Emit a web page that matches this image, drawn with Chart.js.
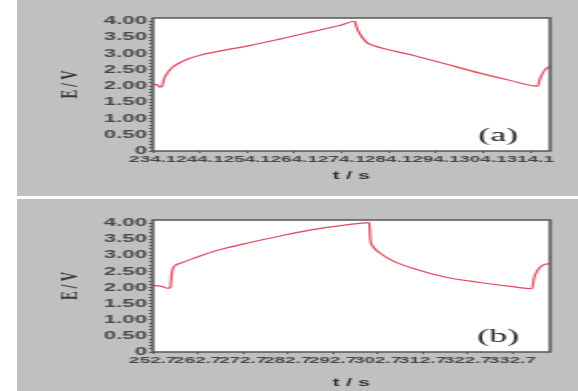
<!DOCTYPE html>
<html>
<head>
<meta charset="UTF-8">
<title>E / V vs t / s</title>
<style>
    body {
        margin: 0;
        background: #fff;
        width: 578px;
        height: 391px;
        position: relative;
        overflow: hidden;
    }
    .panel {
        position: absolute;
        left: 17px;
        width: 561px;
        background: #c0c0c0;
    }
    #panelA { top: 0; height: 196px; }
    #panelB { top: 199px; height: 192px; }
    /* drawn narrow, shown wide */
    .panel canvas { display: block; width: 561px; }
</style>
</head>
<body>
<div class="panel" id="panelA">
    <canvas id="chartA" width="281" height="196" style="width:561px;height:196px;"></canvas>
</div>
<div class="panel" id="panelB">
    <canvas id="chartB" width="281" height="192" style="width:561px;height:192px;"></canvas>
</div>
<script src="https://cdn.jsdelivr.net/npm/chart.js@4"></script>
<script>
    // (a) first cycle
    const timeA = [234.1, 235.0, 235.7, 236.1, 236.5, 237.2, 238.3, 239.8, 241.3, 244.1, 248.3, 254.6, 261.0, 268.0, 273.7, 276.9, 277.3, 277.9, 279.4, 280.7, 289.2, 295.0, 303.4, 309.7, 315.7, 316.1, 317.2, 318.2];
    const voltA = [2.06, 2.04, 1.97, 2.00, 2.22, 2.40, 2.58, 2.72, 2.82, 2.95, 3.08, 3.25, 3.45, 3.68, 3.87, 4.00, 3.81, 3.63, 3.35, 3.26, 2.95, 2.73, 2.40, 2.18, 2.00, 2.20, 2.50, 2.60];
    const xTicksA = [234.1, 244.1, 254.1, 264.1, 274.1, 284.1, 294.1, 304.1, 314.1];
    const xRangeA = [234.1, 318.3];

    // (b) second cycle
    const timeB = [252.7, 254.9, 256.0, 256.6, 256.9, 257.2, 258.7, 261.6, 266.9, 274.3, 281.6, 288.3, 295.8, 300.9, 301.1, 301.6, 303.1, 306.0, 310.5, 318.0, 325.4, 332.7, 337.1, 337.5, 338.3, 339.4, 341.1];
    const voltB = [2.07, 2.03, 1.98, 2.00, 2.38, 2.60, 2.75, 2.90, 3.15, 3.40, 3.62, 3.80, 3.95, 4.02, 3.52, 3.30, 3.09, 2.84, 2.60, 2.32, 2.16, 2.03, 1.97, 2.28, 2.53, 2.69, 2.75];
    const xTicksB = [252.7, 262.7, 272.7, 282.7, 292.7, 302.7, 312.7, 322.7, 332.7];
    const xRangeB = [252.7, 341.1];

    const yTickValues = [0, 0.5, 1, 1.5, 2, 2.5, 3, 3.5, 4];
    const yTickLabels = ['0', '0.50', '1.00', '1.50', '2.00', '2.50', '3.00', '3.50', '4.00'];

    // minor marks every 0.1 V on the y axis
    const yMinor = [];
    for (let i = 0; i <= 40; i++) yMinor.push(i / 10);

    const framePlugin = {
        id: 'frame',
        beforeDraw(chart) {
            const {ctx, chartArea: a} = chart;
            ctx.save();
            ctx.fillStyle = '#ffffff';
            ctx.fillRect(a.left, a.top, a.right - a.left, a.bottom - a.top);
            ctx.restore();
        },
        afterDraw(chart, args, opts) {
            const {ctx, chartArea: a} = chart;
            ctx.save();
            ctx.strokeStyle = '#555';
            ctx.lineWidth = 1.5;
            ctx.strokeRect(a.left, a.top, a.right - a.left, a.bottom - a.top);
            ctx.fillStyle = '#222';
            ctx.font = '18px "Liberation Serif", "Times New Roman", serif';
            ctx.textAlign = 'center';
            ctx.textBaseline = 'middle';
            ctx.fillText(opts.tag, a.right - 26, a.bottom - 15);
            ctx.restore();
        }
    };

    function makeChart(id, times, volts, xTicks, xRange, tag, pad, axisH, titlePad) {
        const points = times.map((t, i) => ({x: t, y: volts[i]}));
        return new Chart(document.getElementById(id), {
            type: 'line',
            data: {
                datasets: [{
                    data: points,
                    borderColor: 'rgb(226, 74, 96)',
                    borderWidth: 1.2,
                    pointRadius: 0,
                    cubicInterpolationMode: 'monotone',
                    fill: false
                }]
            },
            options: {
                responsive: false,
                devicePixelRatio: 1,
                animation: false,
                layout: { padding: pad },
                plugins: {
                    legend: { display: false },
                    tooltip: { enabled: false },
                    frame: { tag: tag }
                },
                scales: {
                    x: {
                        type: 'linear',
                        min: xRange[0],
                        max: xRange[1],
                        afterBuildTicks: s => { s.ticks = xTicks.map(v => ({value: v})); },
                        afterFit: s => { s.height = axisH; },
                        ticks: {
                            autoSkip: false,
                            maxRotation: 0,
                            minRotation: 0,
                            padding: 1,
                            color: '#474747',
                            font: { family: '"Liberation Sans", Arial, sans-serif', size: 9.5, weight: 'bold' },
                            callback: v => v.toFixed(1)
                        },
                        grid: { drawOnChartArea: false, tickLength: 2, color: '#5a5a5a' },
                        border: { display: false },
                        title: {
                            display: true,
                            text: 't / s',
                            color: '#333',
                            padding: { top: 0, bottom: titlePad },
                            font: { family: '"Liberation Sans", Arial, sans-serif', size: 11, weight: 'bold' }
                        }
                    },
                    y: {
                        type: 'linear',
                        min: 0,
                        max: 4.1,
                        afterBuildTicks: s => { s.ticks = yMinor.map(v => ({value: v})); },
                        afterFit: s => { s.width = 68; },
                        ticks: {
                            autoSkip: false,
                            padding: 1,
                            color: '#474747',
                            font: { family: '"Liberation Sans", Arial, sans-serif', size: 11, weight: 'bold' },
                            callback: v => {
                                const i = yTickValues.findIndex(t => Math.abs(t - v) < 1e-6);
                                return i >= 0 ? yTickLabels[i] : '';
                            }
                        },
                        grid: { drawOnChartArea: false, tickLength: 2, color: '#5a5a5a' },
                        border: { display: false },
                        title: {
                            display: true,
                            text: 'E / V',
                            color: '#3a3a3a',
                            padding: { top: 19, bottom: 0 },
                            font: { family: '"Liberation Serif", "Times New Roman", serif', size: 13, weight: 'bold' }
                        }
                    }
                }
            },
            plugins: [framePlugin]
        });
    }

    makeChart('chartA', timeA, voltA, xTicksA, xRangeA, '(a)', { top: 18, right: 14, bottom: 0, left: 0 }, 45, 13);
    makeChart('chartB', timeB, voltB, xTicksB, xRangeB, '(b)', { top: 21, right: 14, bottom: 0, left: 0 }, 39, 1);
</script>
</body>
</html>
